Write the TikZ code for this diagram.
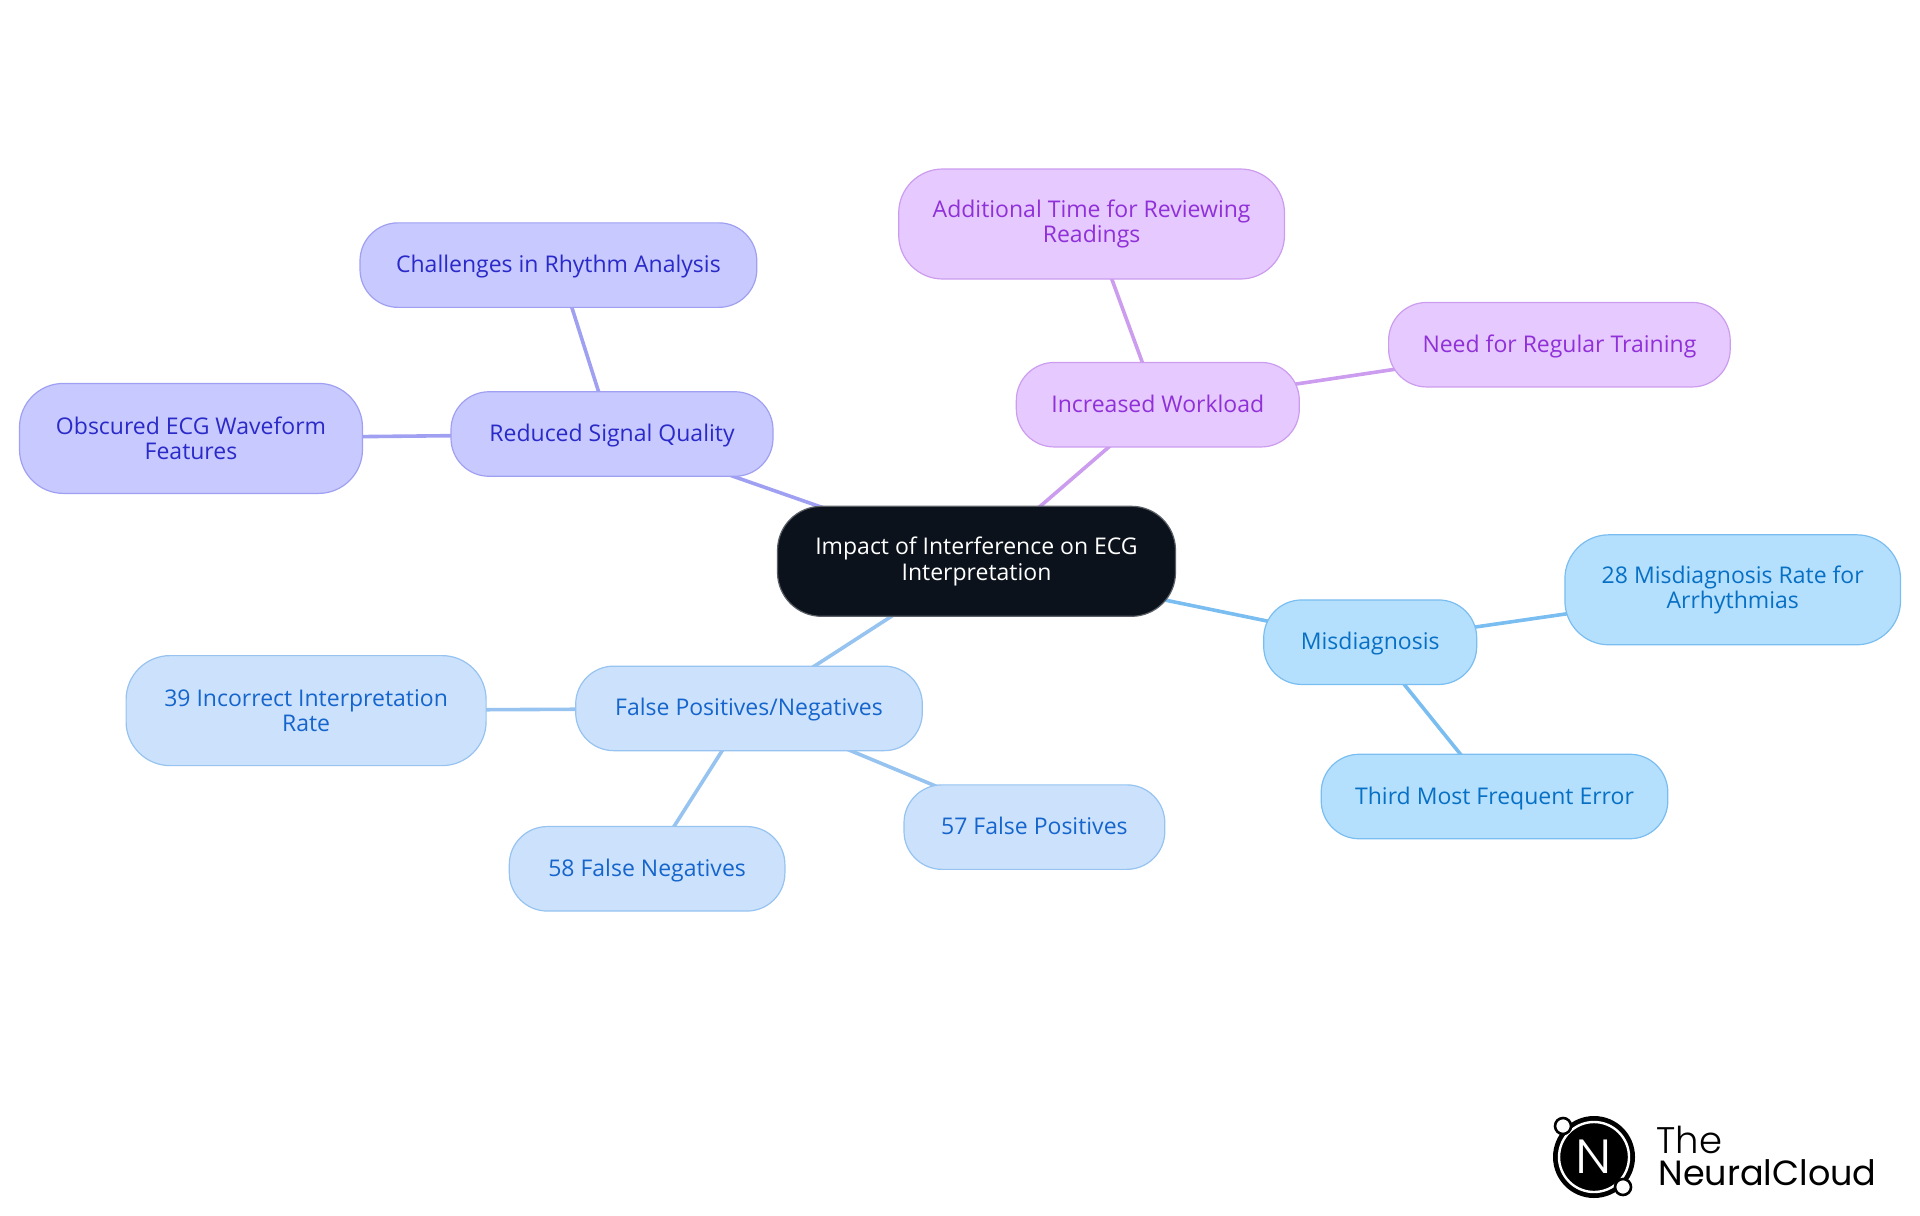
\documentclass[tikz,border=0pt]{standalone}
\usepackage{fontspec}
\setmainfont{Open Sans}
\newfontfamily\logolight{Poppins Light}
\newfontfamily\logoreg{Poppins}
\usetikzlibrary{positioning,backgrounds}
\definecolor{rootfill}{HTML}{0B121B}
\definecolor{rootedge}{HTML}{5A5F66}
\definecolor{signalfill}{HTML}{C8C9FE}
\definecolor{signaledge}{HTML}{A0A0F2}
\definecolor{signaltext}{HTML}{2A2AC8}
\definecolor{loadfill}{HTML}{E6C9FE}
\definecolor{loadedge}{HTML}{CC9CEF}
\definecolor{loadtext}{HTML}{9030D8}
\definecolor{diagfill}{HTML}{B4E0FE}
\definecolor{diagedge}{HTML}{7ABDF0}
\definecolor{diagtext}{HTML}{0870C4}
\definecolor{falsefill}{HTML}{CCE2FC}
\definecolor{falseedge}{HTML}{96C3F0}
\definecolor{falsetext}{HTML}{1565CC}
\tikzset{
    idea/.style={draw, rounded corners=19pt, line width=0.6pt, inner sep=0pt,
        minimum height=42.25pt, align=center, text height=10.1pt, text depth=2.6pt,
        font=\fontsize{11.5}{12.8}\selectfont},
    tall/.style={minimum height=55pt, rounded corners=22pt, text height=, text depth=},
    rootidea/.style={idea, tall, fill=rootfill, draw=rootedge, text=white, minimum width=199pt},
    signal/.style={idea, fill=signalfill, draw=signaledge, text=signaltext},
    load/.style={idea, fill=loadfill, draw=loadedge, text=loadtext},
    diag/.style={idea, fill=diagfill, draw=diagedge, text=diagtext},
    falsepn/.style={idea, fill=falsefill, draw=falseedge, text=falsetext},
    signalline/.style={draw=signaledge, line width=1.8pt},
    loadline/.style={draw=loadedge, line width=1.8pt},
    diagline/.style={draw=diagedge, line width=1.8pt},
    falseline/.style={draw=falseedge, line width=1.8pt}
}
\begin{document}
\begin{tikzpicture}[x=0.5pt,y=-0.5pt]
    \useasboundingbox (0,0) rectangle (1920,1215);
    % centre
    \node[rootidea] (root) at (976.5,561.3) {Impact of Interference on ECG\\Interpretation};
    % signal branch
    \node[signal, minimum width=161pt] (quality) at (612,434) {Reduced Signal Quality};
    \node[signal, minimum width=198.4pt] (rhythm) at (558.4,265.1) {Challenges in Rhythm Analysis};
    \node[signal, tall, minimum width=171.5pt] (waveform) at (191,438.4) {Obscured ECG Waveform\\Features};
    % workload branch
    \node[load, minimum width=141.5pt] (workload) at (1157.8,404.7) {Increased Workload};
    \node[load, tall, minimum width=192.9pt] (review) at (1091.6,224) {Additional Time for Reviewing\\Readings};
    \node[load, minimum width=170.8pt] (training) at (1559.4,344.7) {Need for Regular Training};
    % misdiagnosis branch
    \node[diag, minimum width=106.5pt] (misdiag) at (1370.2,642.2) {Misdiagnosis};
    \node[diag, tall, minimum width=167.8pt] (arrhythmia) at (1732.7,589.8) {28 Misdiagnosis Rate for\\Arrhythmias};
    \node[diag, minimum width=173.3pt] (third) at (1494.5,796.5) {Third Most Frequent Error};
    % false results branch
    \node[falsepn, minimum width=173.3pt] (falsepos) at (749,708.4) {False Positives/Negatives};
    \node[falsepn, tall, minimum width=180pt] (incorrect) at (306.1,710.6) {39 Incorrect Interpretation\\Rate};
    \node[falsepn, minimum width=137.8pt] (negatives) at (647.1,868.8) {58 False Negatives};
    \node[falsepn, minimum width=130.4pt] (positives) at (1034.4,827.1) {57 False Positives};
    % connectors
    \begin{scope}[on background layer]
        \draw[signalline] (root.center) -- (quality.center);
        \draw[signalline] (quality.center) -- (rhythm.center);
        \draw[signalline] (quality.center) -- (waveform.center);
        \draw[loadline] (root.center) -- (workload.center);
        \draw[loadline] (workload.center) -- (review.center);
        \draw[loadline] (workload.center) -- (training.center);
        \draw[diagline] (root.center) -- (misdiag.center);
        \draw[diagline] (misdiag.center) -- (arrhythmia.center);
        \draw[diagline] (misdiag.center) -- (third.center);
        \draw[falseline] (root.center) -- (falsepos.center);
        \draw[falseline] (falsepos.center) -- (incorrect.center);
        \draw[falseline] (falsepos.center) -- (negatives.center);
        \draw[falseline] (falsepos.center) -- (positives.center);
    \end{scope}
    % logo
    \fill[black] (1594,1157) circle (41);
    \draw[white, line width=1.2pt] (1594,1157) circle (35);
    \draw[black, fill=white, line width=1.3pt] (1563,1126) circle (8);
    \draw[black, fill=white, line width=1.3pt] (1623,1187) circle (8);
    \node[text=white, inner sep=0pt, xscale=1.1, font=\logolight\fontsize{24}{24}\selectfont] (logoN) at (1594,1157) {N};
    \node[anchor=base west, inner sep=0pt, font=\logolight\fontsize{18.5}{18.5}\selectfont] (logoThe) at (1656,1153) {The};
    \node[anchor=base west, inner sep=0pt, font=\logoreg\fontsize{17.5}{17.5}\selectfont] (logoName) at (1658,1185) {NeuralCloud};
\end{tikzpicture}
\end{document}
